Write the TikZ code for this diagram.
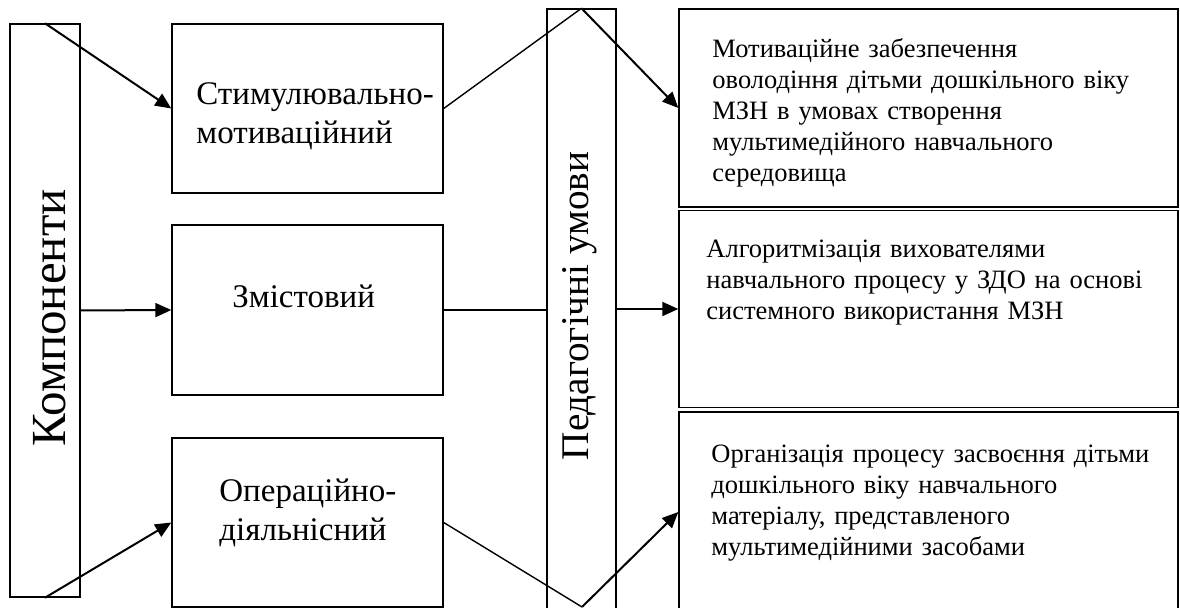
\documentclass[tikz,border=0pt]{standalone}
\usepackage{fontspec}
\setmainfont{Liberation Serif}
\usetikzlibrary{arrows.meta,calc}

\tikzset{
  box/.style={draw,line width=0.7pt,inner sep=0pt},
  txt/.style={inner sep=0pt,anchor=base west,align=left},
  mid/.style={txt,text width=130pt,font=\fontsize{16.5}{19.5}\selectfont},
  cond/.style={txt,text width=240pt,font=\fontsize{13.25}{15.5}\selectfont},
  arr/.style={line width=1pt,-{Triangle[length=8pt,width=7pt]}},
  ln/.style={line width=0.7pt}
}

\begin{document}
\begin{tikzpicture}[x=0.5pt,y=-0.5pt]
    \clip (0,0) rectangle (1180,608);

    % left column
    \node[box,minimum width=35pt,minimum height=286.5pt] (comp) at (45,310.5) {};
    \node[rotate=90,inner sep=0pt,font=\fontsize{24.5}{28}\selectfont] (compt) at (50,318) {Компоненти};

    % components
    \node[box,minimum width=135.5pt,minimum height=84.5pt] (stim) at (307.5,108.5) {};
    \node[box,minimum width=135.5pt,minimum height=85pt] (zmist) at (307.5,310) {};
    \node[box,minimum width=135.5pt,minimum height=84.5pt] (oper) at (307.5,522.5) {};
    \node[mid] (stimt) at (196,105) {Стимулювально-\\мотиваційний};
    \node[mid] (zmistt) at (232,308) {Змістовий};
    \node[mid] (opert) at (219,502) {Операційно-\\діяльнісний};

    % conditions column
    \node[box,minimum width=34.5pt,minimum height=310.5pt] (pedag) at (581.5,319.5) {};
    \node[rotate=90,inner sep=0pt,font=\fontsize{19.6}{23}\selectfont] (pedagt) at (580,306) {Педагогічні умови};
    \coordinate (vb) at (582,607);

    % conditions
    \node[box,minimum width=249.5pt,minimum height=99pt] (r1) at (928.5,108) {};
    \node[box,minimum width=249.5pt,minimum height=98.5pt] (r2) at (928.5,309) {};
    \node[box,minimum width=249.5pt,minimum height=100pt] (r3) at (928.5,512) {};
    \node[cond] (r1t) at (712,58) {Мотиваційне забезпечення\\оволодіння дітьми дошкільного віку\\МЗН в умовах створення\\мультимедійного навчального\\середовища};
    \node[cond] (r2t) at (706,258) {Алгоритмізація вихователями\\навчального процесу у ЗДО на основі\\системного використання МЗН};
    \node[cond] (r3t) at (711,463) {Організація процесу засвоєння дітьми\\дошкільного віку навчального\\матеріалу, представленого\\мультимедійними засобами};

    % connectors
    \draw[arr] (comp.north) -- (stim.west);
    \draw[arr] (comp.east) -- (zmist.west);
    \draw[arr] (comp.south) -- (oper.west);
    \draw[ln] (stim.east) -- (pedag.north);
    \draw[arr] (pedag.north) -- (r1.west);
    \draw[ln] (zmist.east) -- (zmist.east -| pedag.west);
    \draw[arr] (pedag.east |- r2.west) -- (r2.west);
    \draw[ln] (oper.east) -- (vb);
    \draw[arr] (vb) -- (r3.west);
\end{tikzpicture}
\end{document}
